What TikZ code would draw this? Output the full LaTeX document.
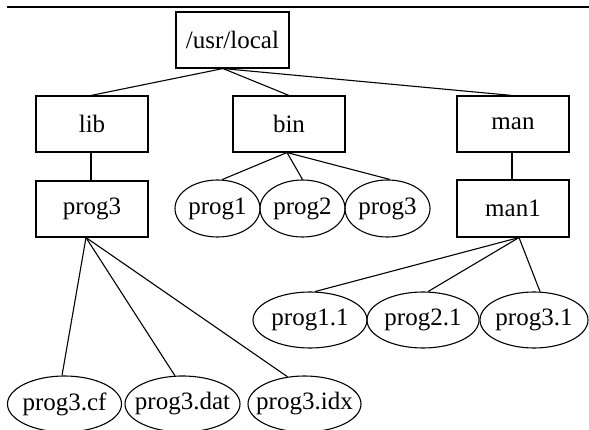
\documentclass[tikz,border=0pt]{standalone}
\usepackage{fontspec}
\setmainfont{Liberation Serif}
\usetikzlibrary{shapes.geometric,calc}
\begin{document}
\begin{tikzpicture}[x=1pt,y=-1pt,line width=1.1pt,
  every node/.style={font=\fontsize{25}{30}\selectfont},
  dirbox/.style={draw,rectangle,inner sep=0pt,minimum width=112pt,minimum height=56pt},
  fileell/.style={draw,ellipse,inner sep=0pt,minimum height=56pt},
  conn/.style={line width=1.1pt}]
\useasboundingbox (0,0) rectangle (589,430);
% top rule
\coordinate (ruleL) at (7,7);
\coordinate (ruleR) at (589,7);
\draw (ruleL) -- (ruleR);
% directories
\node[dirbox,minimum width=113pt] (usr) at (232.5,40) {/usr/local};
\node[dirbox] (lib) at (92,124) {lib};
\node[dirbox] (bin) at (289,124) {bin};
\node[dirbox] (man) at (513,124) {man};
\node[dirbox] (p3) at (92,209) {prog3};
\node[dirbox,minimum height=57pt] (man1) at (513,208.5) {man1};
% files under bin
\node[fileell,minimum width=85pt,minimum height=57pt] (b1) at (217.5,208.5) {\makebox[0pt]{prog1}};
\node[fileell,minimum width=85pt,minimum height=57pt] (b2) at (302.5,208.5) {\makebox[0pt]{prog2}};
\node[fileell,minimum width=85pt,minimum height=57pt] (b3) at (387.5,208.5) {\makebox[0pt]{prog3}};
% files under man1
\node[fileell,minimum width=114pt] (m1) at (310,320) {\makebox[0pt]{prog1.1}};
\node[fileell,minimum width=112pt] (m2) at (423,320) {\makebox[0pt]{prog2.1}};
\node[fileell,minimum width=108pt] (m3) at (534,320) {\makebox[0pt]{prog3.1}};
% files under lib/prog3
\node[fileell,minimum width=114pt] (cf) at (64.5,404) {\makebox[0pt]{prog3.cf}};
\node[fileell,minimum width=115pt] (dat) at (182.5,404) {\makebox[0pt]{prog3.dat}};
\node[fileell,minimum width=113pt] (idx) at (304.5,404) {\makebox[0pt]{prog3.idx}};
% branch points
\coordinate (usrb) at ($(usr.south)+(-9.5,0)$);
\coordinate (binb) at ($(bin.south)+(-2,0)$);
\coordinate (p3b) at ($(p3.south)+(-6,0)$);
\coordinate (man1b) at ($(man1.south)+(6,0)$);
% connectors
\draw[conn] (usrb) -- ($(lib.north)+(-1,0)$);
\draw[conn] (usrb) -- (bin.north);
\draw[conn] (usrb) -- ($(man.north)+(-1,0)$);
\draw[conn] ($(lib.south)+(-1,0)$) -- ($(p3.north)+(-1,0)$);
\draw[conn] ($(man.south)+(-1,0)$) -- ($(man1.north)+(-1,0)$);
\draw[conn] (binb) -- (b1.81);
\draw[conn] (binb) -- (b2.90);
\draw[conn] (binb) -- (b3.85);
\draw[conn] (man1b) -- (m1.80);
\draw[conn] (man1b) -- (m2.80);
\draw[conn] (man1b) -- (m3.78);
\draw[conn] (p3b) -- (cf.95);
\draw[conn] (p3b) -- (dat.105);
\draw[conn] (p3b) -- (idx.122);
\end{tikzpicture}
\end{document}
